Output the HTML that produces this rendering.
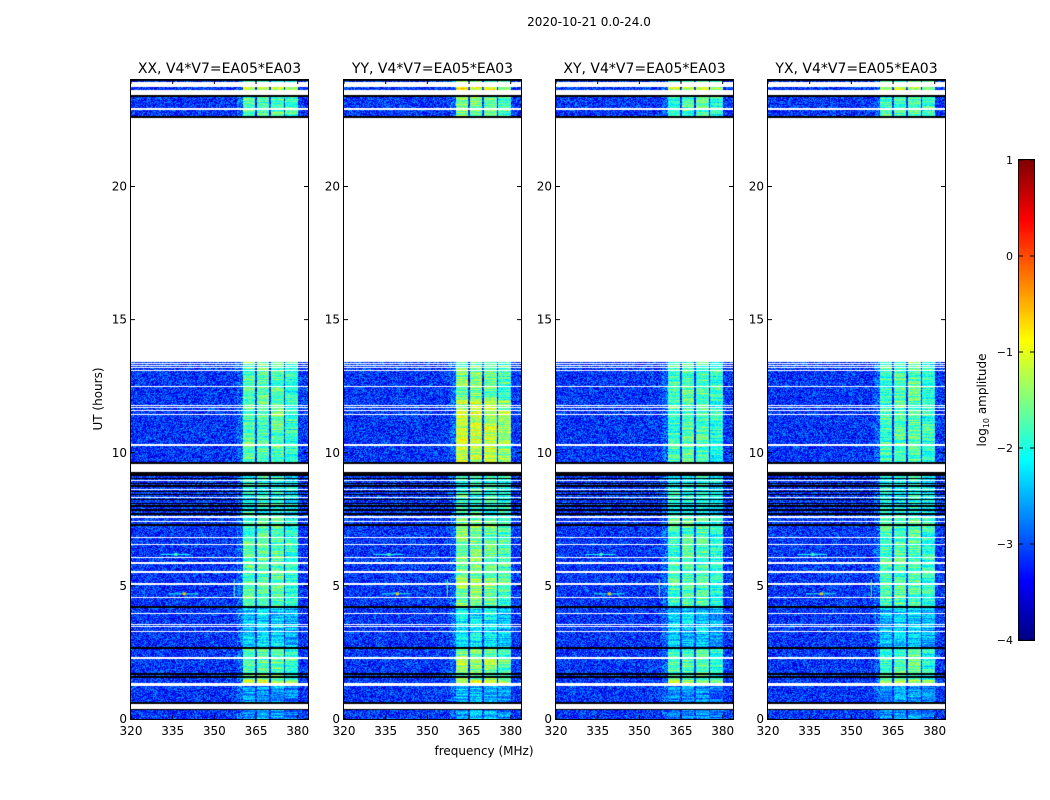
<!DOCTYPE html>
<html><head><meta charset="utf-8">
<style>
body{margin:0;background:#fff;width:1050px;height:800px;position:relative;overflow:hidden;font-family:"DejaVu Sans","Liberation Sans",sans-serif;}
canvas{position:absolute;}
svg{position:absolute;left:0;top:0;font-family:"DejaVu Sans","Liberation Sans",sans-serif;}
</style></head>
<body>
<canvas id="c0" width="177" height="639" style="left:131px;top:80px"></canvas>
<canvas id="c1" width="177" height="639" style="left:344px;top:80px"></canvas>
<canvas id="c2" width="177" height="639" style="left:556px;top:80px"></canvas>
<canvas id="c3" width="177" height="639" style="left:768px;top:80px"></canvas>
<canvas id="cb" width="15" height="480" style="left:1019px;top:160px"></canvas>
<svg id="ov" width="1050" height="800"></svg>
<script>
// ---- data ----
const panelTitles=["XX, V4*V7=EA05*EA03","YY, V4*V7=EA05*EA03","XY, V4*V7=EA05*EA03","YX, V4*V7=EA05*EA03"];
const panelLefts=[131,344,556,768];
const xTicks=[320,335,350,365,380];
const yTicks=[0,5,10,15,20];
const cbTicks=[1,0,-1,-2,-3,-4];
const dataBlocks=[[0,0.34],[0.64,13.41],[22.6,23.42],[23.62,23.74],[23.92,24]];
const whiteLines=[[0.38,0.56],[1.24,1.35],[2.27,2.31],[3.28,3.32],[3.45,3.48],[3.52,3.55],[3.96,4.0],[4.56,4.6],[5.05,5.09],[5.5,5.54],[5.84,5.88],[6.06,6.1],[6.55,6.59],[6.78,6.82],[7.4,7.43],[7.55,7.62],[8.3,8.34],[8.6,8.64],[8.95,8.99],[9.29,9.56],[10.24,10.28],[10.3,10.34],[11.4,11.44],[11.58,11.62],[11.68,11.72],[11.77,11.81],[12.48,12.52],[13.08,13.12],[13.17,13.21],[13.27,13.3],[13.34,13.37],[22.88,22.93]];
const blackLines=[[0.34,0.39],[0.56,0.65],[1.55,1.6],[1.66,1.71],[2.64,2.7],[4.18,4.23],[7.26,7.31],[7.68,7.72],[7.82,7.87],[7.98,8.02],[8.08,8.12],[8.22,8.26],[8.4,8.44],[8.52,8.56],[8.72,8.77],[8.84,8.88],[9.0,9.04],[9.13,9.29],[9.56,9.66],[22.58,22.66],[23.38,23.43],[23.97,24]];
const bands=[[360.2,364.6],[365.2,369.7],[370.3,374.9],[375.4,380.0]];
const bandLevels=[[-1.75,-1.7,-1.7,-1.9],[-1.55,-1.55,-1.6,-1.8],[-1.8,-1.75,-1.75,-1.95],[-1.8,-1.75,-1.7,-1.9]];
const timeMods=[[0,0.34,-0.9],[0.64,1.24,-0.9],[1.35,1.46,0.5],[2.7,4.2,-0.6],[7.6,9.3,-0.3],[23.62,23.74,0.6]];
const yyBright=[[9.6,12.0,0.4],[4.9,5.3,0.2],[1.9,2.3,0.2]];
const bgLevel=-3.15;
const spots=[[339,4.72,-0.6],[336,6.2,-1.8]];
const vlines=[[357,4.6,5.25,-1.6]];
// ---- helpers ----
const H0=80,PH=639,PW=177;
const hy=h=>(24-h)*PH/24;
const fx=f=>(f-320)*(PW/63.7);
const xf=x=>320+x*63.7/PW;
const yh=y=>24-y*24/PH;
function jet(t){t=Math.max(0,Math.min(1,t));const c=v=>Math.round(255*Math.max(0,Math.min(1,v)));return [c(1.5-Math.abs(4*t-3)),c(1.5-Math.abs(4*t-2)),c(1.5-Math.abs(4*t-1))];}
function hash(a,b){let h=(a*374761393+b*668265263)^0x5bd1e995;h=(h^(h>>>13))*1274126177;h^=h>>>16;return ((h>>>0)%10000)/10000;}
const inR=(h,arr)=>arr.some(r=>h>=r[0]&&h<r[1]);
for(let p=0;p<4;p++){
 const cv=document.getElementById('c'+p),ctx=cv.getContext('2d');
 const img=ctx.createImageData(PW,PH),d=img.data;
 for(let y=0;y<PH;y++){
  const h=yh(y+0.5);
  let mode=0;
  if(inR(h,blackLines))mode=2;else if(!inR(h,dataBlocks)||inR(h,whiteLines))mode=1;
  let mod=0;timeMods.forEach(m=>{if(h>=m[0]&&h<m[1])mod+=m[2];});
  if(p==1)yyBright.forEach(m=>{if(h>=m[0]&&h<m[1])mod+=m[2];});
  for(let x=0;x<PW;x++){
   const i=(y*PW+x)*4;let col;
   if(mode==1)col=[255,255,255];else if(mode==2)col=[0,0,0];
   else{
    const f=xf(x+0.5);let v=bgLevel+(hash(x+p*500,y)-0.5)*1.2;
    for(let b=0;b<bands.length;b++){const bd=bands[b];if(f>=bd[0]&&f<bd[1]){v=bandLevels[p][b]+mod+(hash(b+p*7,y)-0.5)*0.7+(hash(x+p*500,y+9999)-0.5)*0.7;}}
    if(f>=358&&f<360.2)v+=0.25;
    col=jet((v+4)/5);
   }
   d[i]=col[0];d[i+1]=col[1];d[i+2]=col[2];d[i+3]=255;
  }
 }
 ctx.putImageData(img,0,0);
 spots.forEach(s=>{const c2=jet(0.4);ctx.fillStyle=`rgb(${c2})`;ctx.fillRect(fx(s[0])-15,hy(s[1]),30,1);const c=jet((s[2]+4)/5);ctx.fillStyle=`rgb(${c})`;ctx.fillRect(fx(s[0])-1,hy(s[1])-1,3,3);});
 vlines.forEach(s=>{const c=jet((s[3]+4)/5);ctx.fillStyle=`rgb(${c})`;ctx.fillRect(fx(s[0]),hy(s[2]),1,hy(s[1])-hy(s[2]));});
}
(function(){const ctx=document.getElementById('cb').getContext('2d');for(let y=0;y<480;y++){const c=jet(1-y/480);ctx.fillStyle=`rgb(${c})`;ctx.fillRect(0,y,15,1);}})();
const svg=document.getElementById('ov'),NS='http://www.w3.org/2000/svg';
function el(tag,attrs,txt){const e=document.createElementNS(NS,tag);for(const k in attrs)e.setAttribute(k,attrs[k]);if(txt!==undefined)e.textContent=txt;svg.appendChild(e);return e;}
for(let p=0;p<4;p++){
 const L=panelLefts[p];
 const fr=el('rect',{x:L-0.5,y:H0-0.5,width:PW+1,height:PH+1,fill:'none',stroke:'#000','stroke-width':1});
 
 
 const t=el('text',{x:L+PW/2,y:73,'text-anchor':'middle','font-size':14},panelTitles[p]);
 
 
 xTicks.forEach(v=>{const x=L+fx(v);
  el('line',{x1:x,x2:x,y1:H0+PH,y2:H0+PH-4,stroke:'#000'});el('line',{x1:x,x2:x,y1:H0,y2:H0+4,stroke:'#000'});
  const tl=el('text',{x:x,y:H0+PH+16,'text-anchor':'middle','font-size':12},String(v));
  
  });
 yTicks.forEach(v=>{const y=H0+hy(v);
  el('line',{x1:L,x2:L+4,y1:y,y2:y,stroke:'#000'});el('line',{x1:L+PW,x2:L+PW-4,y1:y,y2:y,stroke:'#000'});
  const tl=el('text',{x:L-4,y:y+4,'text-anchor':'end','font-size':12},String(v));
  
  });
}
const st=el('text',{x:589,y:26,'text-anchor':'middle','font-size':12},'2020-10-21 0.0-24.0');


const yl=el('text',{x:0,y:0,'text-anchor':'middle','font-size':12,transform:'translate(102,399) rotate(-90)'},'UT (hours)');


const xl=el('text',{x:484,y:755,'text-anchor':'middle','font-size':12},'frequency (MHz)');


const cf=el('rect',{x:1018.5,y:159.5,width:16,height:481,fill:'none',stroke:'#000'});


cbTicks.forEach(v=>{const y=160+(1-v)*96;
 el('line',{x1:1019,x2:1023,y1:y,y2:y,stroke:'#000'});el('line',{x1:1034,x2:1030,y1:y,y2:y,stroke:'#000'});
 const tl=el('text',{x:1013,y:y+4,'text-anchor':'end','font-size':11},v<0?'\u2212'+(-v):String(v));
 
 });
const cl=el('text',{x:0,y:0,'text-anchor':'middle','font-size':12,transform:'translate(986,400) rotate(-90)'});


cl.innerHTML='log<tspan font-size="8" dy="3">10</tspan><tspan dy="-3"> amplitude</tspan>';
</script>
</body></html>
